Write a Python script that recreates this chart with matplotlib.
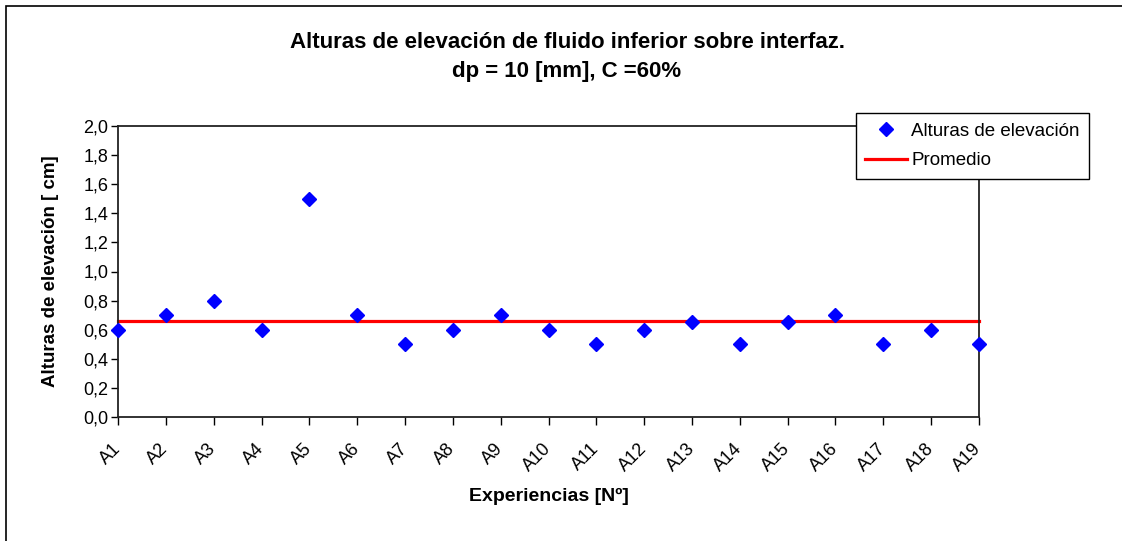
import matplotlib
matplotlib.use("Agg")
import matplotlib.pyplot as plt
from matplotlib.patches import Rectangle
from matplotlib.transforms import ScaledTranslation
import numpy as np

plt.rcParams['font.family'] = ['Liberation Sans', 'DejaVu Sans']

experiencias = ['A%d' % i for i in range(1, 20)]
alturas = [0.6, 0.7, 0.8, 0.6, 1.5, 0.7, 0.5, 0.6, 0.7, 0.6,
           0.5, 0.6, 0.65, 0.5, 0.65, 0.7, 0.5, 0.6, 0.5]
promedio = [np.mean(alturas)] * len(alturas)
yticks = [0.0, 0.2, 0.4, 0.6, 0.8, 1.0, 1.2, 1.4, 1.6, 1.8, 2.0]

fig = plt.figure(figsize=(11.22, 5.41), dpi=100)
ax = fig.add_axes([118/1122, 1-417/541, (979-118)/1122, (417-126)/541])

x = np.arange(len(experiencias))
ax.plot(x, promedio, color='#ff0000', lw=2.3, label='Promedio', clip_on=False, zorder=2)
ax.plot(x, alturas, ls='none', marker='D', ms=7.2, color='#0000ff',
        label='Alturas de elevación', clip_on=False, zorder=3)

ax.set_xlim(0, len(experiencias) - 1)
ax.set_ylim(0, 2.0)
ax.set_xticks(x)
ax.set_xticklabels(experiencias, rotation=45, ha='right', va='center',
                   rotation_mode='anchor', fontsize=13)
# shift the slanted labels a bit to the left, like the original
for t in ax.get_xticklabels():
    t.set_transform(t.get_transform() + ScaledTranslation(-6/100, 0, fig.dpi_scale_trans))
ax.set_yticks(yticks)
ax.set_yticklabels([('%.1f' % v).replace('.', ',') for v in yticks], fontsize=13)
ax.tick_params(axis='x', length=6, width=1, pad=15)
ax.tick_params(axis='y', length=5, width=1, pad=2)
for s in ax.spines.values():
    s.set_linewidth(1.3)
    s.set_color('#222222')

ax.set_xlabel('Experiencias [Nº]', fontsize=14, fontweight='bold')
ax.xaxis.set_label_coords(0.5, (417-488)/291)
ax.set_ylabel('Alturas de elevación [ cm]', fontsize=13.5, fontweight='bold')
ax.yaxis.set_label_coords(-0.069, 0.5)

fig.text(567/1122, 1-42/541, 'Alturas de elevación de fluido inferior sobre interfaz.',
         ha='center', va='center', fontsize=16, fontweight='bold')
fig.text(567/1122, 1-72/541, 'dp = 10 [mm], C =60%',
         ha='center', va='center', fontsize=16, fontweight='bold')

h, l = ax.get_legend_handles_labels()
leg = ax.legend(h[::-1], l[::-1], loc='upper left', bbox_to_anchor=(856/1122, 1-113/541),
                bbox_transform=fig.transFigure, borderaxespad=0, fancybox=False,
                edgecolor='black', framealpha=1, fontsize=13.5, handlelength=2.2,
                handletextpad=0.25, borderpad=0.5, labelspacing=0.68)
leg.get_frame().set_linewidth(1.0)

fig.patches.append(Rectangle((6/1122, -0.1), 1.2, 1.1 - 6/541, transform=fig.transFigure,
                             fill=False, edgecolor='black', lw=1.2))

fig.savefig('out.png', dpi=100)
